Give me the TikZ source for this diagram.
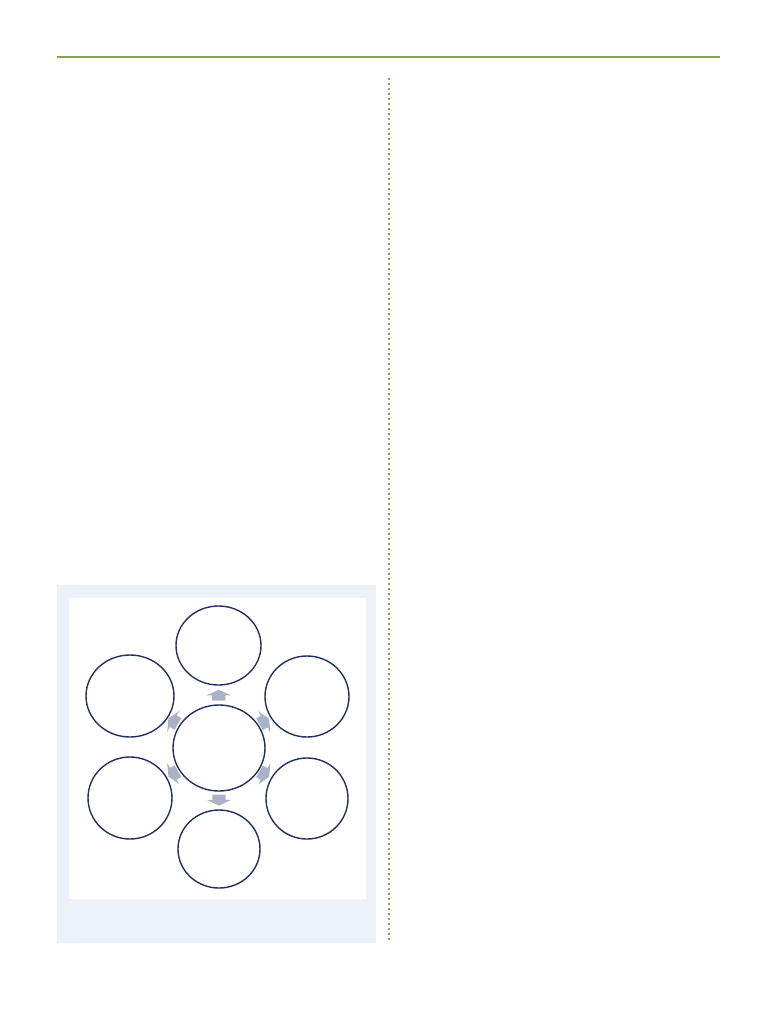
\documentclass[tikz,border=0pt]{standalone}
\usetikzlibrary{shapes.geometric,shapes.arrows,calc}

\definecolor{rulegreen}{RGB}{134,166,74}
\definecolor{panelblue}{RGB}{236,241,250}
\definecolor{ringnavy}{RGB}{38,48,94}
\definecolor{arrowgray}{RGB}{172,178,198}

\begin{document}
\begin{tikzpicture}[
                x=1pt, y=-1pt,
                ring/.style={ellipse, draw=ringnavy, line width=1.4pt, fill=white, inner sep=0pt},
                flow/.style={single arrow, fill=arrowgray, draw=none, inner xsep=0pt, inner ysep=6.5pt,
                    minimum width=24pt, minimum height=11pt,
                    single arrow head extend=5.5pt, single arrow tip angle=130}
            ]
                \useasboundingbox (0,0) rectangle (782,1010);

                % Page rule and column divider
                \draw[rulegreen, line width=2.4pt] (57,57) -- (720,57);
                \draw[rulegreen, line width=2pt, dash pattern=on 1.6pt off 3.4pt] (389,78) -- (389,943);

                % Panel behind the cycle
                \fill[panelblue] (57,585) rectangle (376,943);
                \fill[white] (69,598) rectangle (366,899);

                % The hub and the six rings round it
                \node[ring, minimum width=92pt, minimum height=86pt] (ctr) at (219,748) {};
                \node[ring, minimum width=85pt, minimum height=79pt] (top) at (218.5,645.5) {};
                \node[ring, minimum width=84pt, minimum height=81pt] (ur) at (307,696.5) {};
                \node[ring, minimum width=82pt, minimum height=81pt] (lr) at (307,798.5) {};
                \node[ring, minimum width=82pt, minimum height=78pt] (bot) at (219,849) {};
                \node[ring, minimum width=84pt, minimum height=82pt] (ll) at (130,798) {};
                \node[ring, minimum width=88pt, minimum height=82pt] (ul) at (130,696) {};

                % Block arrows between the hub and each ring
                \node[flow, rotate=90] at ($(ctr)!0.5!(top)$) {};
                \node[flow, rotate=30] at ($(ctr)!0.5!(ur)$) {};
                \node[flow, rotate=-30] at ($(ctr)!0.5!(lr)$) {};
                \node[flow, rotate=-90] at ($(ctr)!0.5!(bot)$) {};
                \node[flow, rotate=-150] at ($(ctr)!0.5!(ll)$) {};
                \node[flow, rotate=150] at ($(ctr)!0.5!(ul)$) {};

            \end{tikzpicture}
\end{document}
